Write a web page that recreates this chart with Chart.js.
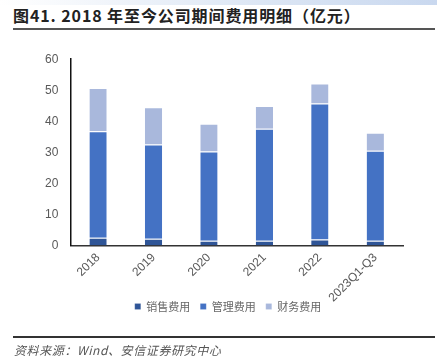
<!DOCTYPE html>
<html>
<head>
<meta charset="utf-8">
<script src="https://cdn.jsdelivr.net/npm/chart.js@4"></script>
<style>
  body { margin: 0; width: 437px; height: 364px; background: #fff; position: relative; overflow: hidden; font-family: "Noto Sans CJK SC", "Noto Sans", sans-serif; }
  #band { position: absolute; left: 0; top: 0; width: 437px; height: 5px; background: linear-gradient(to right, #ffffff, #dce6f4 60%, #c9d8ef); }
  #title { position: absolute; left: 13px; top: 3px; font-size: 16px; font-weight: bold; letter-spacing: 0.9px; color: #222; white-space: nowrap; }
  #topline { position: absolute; left: 13px; top: 28px; width: 422px; height: 2px; background: #555; }
  #botline { position: absolute; left: 13px; top: 336px; width: 422px; height: 2px; background: #333; }
  #source { position: absolute; left: 14px; top: 341px; font-size: 12px; font-style: italic; letter-spacing: 0.6px; color: #555; white-space: nowrap; }
  #wrap { position: absolute; left: 0; top: 40px; width: 437px; height: 301px; }
</style>
</head>
<body>
<div id="band"></div>
<div id="title">图41. 2018 年至今公司期间费用明细（亿元）</div>
<div id="topline"></div>
<div id="wrap"><canvas id="chart"></canvas></div>
<div id="botline"></div>
<div id="source">资料来源：Wind、安信证券研究中心</div>
<script>
const years = ["2018", "2019", "2020", "2021", "2022", "2023Q1-Q3"];
const sales = [2.5, 2.2, 1.5, 1.5, 1.9, 1.5];
const admin = [34.3, 30.3, 28.8, 36.1, 43.8, 29.0];
const finance = [13.9, 12.0, 8.9, 7.3, 6.5, 5.8];
const yTicks = [0, 10, 20, 30, 40, 50, 60];

const ctx = document.getElementById("chart");

function makeSet(label, data, color) {
  return {
    label: label,
    data: data,
    backgroundColor: color,
    borderColor: "rgba(255,255,255,0.6)",
    borderWidth: { top: 1, left: 0, right: 0, bottom: 0 },
    borderSkipped: false,
    barPercentage: 0.6,
    categoryPercentage: 0.52
  };
}

// nudge the legend closer to the rotated labels, like the original
const legendShift = {
  id: "legendShift",
  afterLayout: function(chart) {
    const lg = chart.legend;
    lg.top -= 19; lg.bottom -= 19;
    lg.left += 10; lg.right += 10;
  }
};

new Chart(ctx, {
  type: "bar",
  data: {
    labels: years,
    datasets: [
      makeSet("销售费用", sales, "#2f5597"),
      makeSet("管理费用", admin, "#4472c4"),
      makeSet("财务费用", finance, "#a9b8dc")
    ]
  },
  plugins: [legendShift],
  options: {
    responsive: true,
    maintainAspectRatio: false,
    animation: false,
    layout: { padding: { left: 33, right: 34, top: 15, bottom: 0 } },
    plugins: {
      tooltip: { enabled: false },
      legend: {
        position: "bottom",
        labels: {
          boxWidth: 6,
          boxHeight: 6,
          padding: 10,
          color: "#666",
          font: { size: 11, family: "'Noto Sans CJK SC'" }
        }
      }
    },
    scales: {
      x: {
        stacked: true,
        grid: { display: false, drawTicks: false },
        border: { color: "#333", width: 1.5 },
        ticks: {
          color: "#595959",
          maxRotation: 45,
          minRotation: 45,
          padding: 5,
          font: { size: 12, family: "'Liberation Sans'" }
        }
      },
      y: {
        stacked: true,
        min: 0,
        max: 60,
        afterBuildTicks: function(axis) {
          axis.ticks = yTicks.map(function(v) { return { value: v }; });
        },
        grid: { display: false, drawTicks: false },
        border: { color: "#111", width: 1.5 },
        ticks: {
          color: "#595959",
          padding: 12,
          font: { size: 12, family: "'Liberation Sans'" }
        }
      }
    }
  }
});
</script>
</body>
</html>
